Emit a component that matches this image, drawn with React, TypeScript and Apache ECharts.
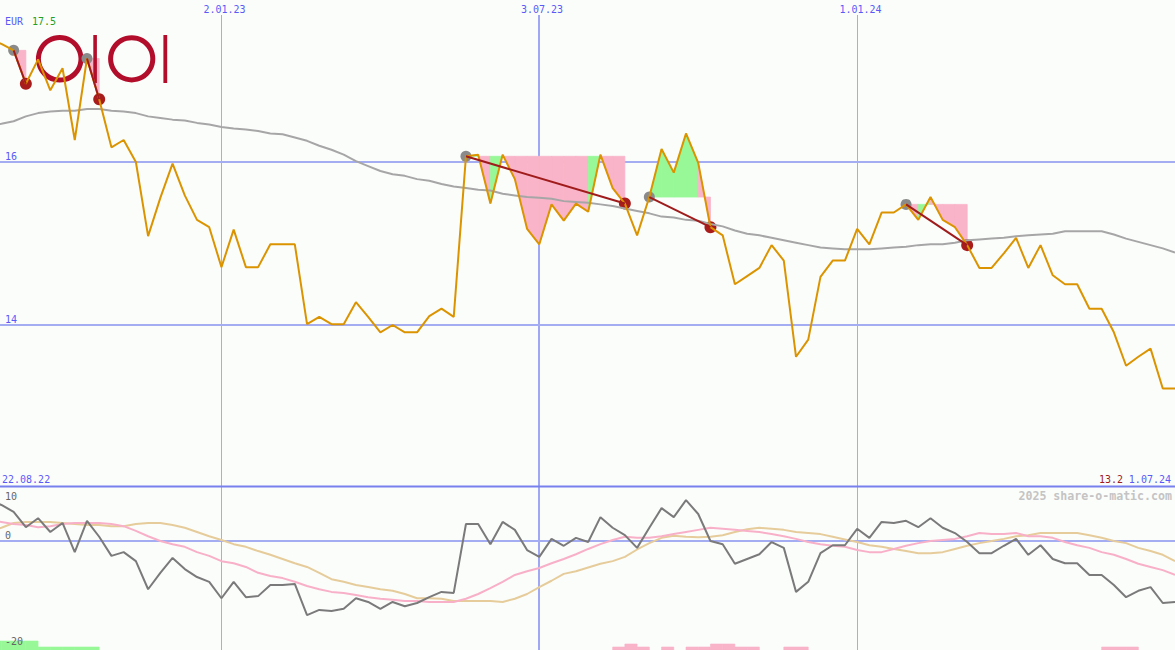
import React, { useEffect, useRef } from 'react';
import * as echarts from 'echarts';

// ---------- data ----------
const X_MIN = 0.885; // week index at left edge
const X_MAX = 97; // week index at right edge (1.07.24)

const currency = 'EUR';
const firstPriceLabel = '17.5';
const lastPriceLabel = '13.2';
const startDate = '22.08.22';
const endDate = '1.07.24';
const watermark = '2025 share-o-matic.com';

const dateTickIdx = [19, 45, 71];
const dateTickLabels = ['2.01.23', '3.07.23', '1.01.24'];
const dateTickMajor = [false, true, false];

const priceGridValues = [14, 16];
const lowerTickValues = [10, 0, -20];
const lowerGridValues = [0];

const PRICE_MIN = 12.012;
const PRICE_MAX = 17.988;
const LOWER_MIN = -20.566;
const LOWER_MAX = 10;

const price = [
  17.5, 17.45, 17.37, 16.96, 17.26, 16.88, 17.15, 16.27, 17.27, 16.77,
  16.18, 16.27, 16.0, 15.09, 15.56, 15.98, 15.59, 15.29, 15.2, 14.71,
  15.17, 14.71, 14.71, 14.99, 14.99, 14.99, 14.01, 14.1, 14.01, 14.01,
  14.28, 14.1, 13.91, 14.0, 13.91, 13.91, 14.11, 14.2, 14.1, 16.07,
  16.09, 15.49, 16.09, 15.79, 15.18, 14.99, 15.48, 15.28, 15.49, 15.39,
  16.09, 15.68, 15.49, 15.1, 15.57, 16.16, 15.87, 16.35, 15.99, 15.2,
  15.1, 14.5, 14.6, 14.7, 14.98, 14.79, 13.61, 13.82, 14.59, 14.79,
  14.79, 15.18, 14.99, 15.38, 15.38, 15.48, 15.29, 15.57, 15.29, 15.2,
  14.98, 14.7, 14.7, 14.88, 15.07, 14.7, 14.98, 14.61, 14.5, 14.5,
  14.2, 14.2, 13.91, 13.5, 13.61, 13.71, 13.22, 13.22,
];

const movingAvg = [
  16.45, 16.47, 16.5, 16.56, 16.6, 16.62, 16.63, 16.63, 16.65, 16.65,
  16.63, 16.62, 16.6, 16.56, 16.54, 16.52, 16.51, 16.48, 16.46, 16.43,
  16.41, 16.4, 16.38, 16.35, 16.34, 16.3, 16.26, 16.2, 16.15, 16.09,
  16.01, 15.95, 15.89, 15.85, 15.83, 15.79, 15.77, 15.73, 15.7, 15.68,
  15.66, 15.65, 15.61, 15.59, 15.57, 15.56, 15.55, 15.52, 15.51, 15.5,
  15.48, 15.46, 15.43, 15.4, 15.37, 15.33, 15.32, 15.29, 15.28, 15.24,
  15.21, 15.16, 15.12, 15.1, 15.07, 15.04, 15.01, 14.98, 14.95, 14.94,
  14.93, 14.93, 14.93, 14.94, 14.95, 14.96, 14.98, 14.99, 14.99, 15.01,
  15.04, 15.05, 15.06, 15.07, 15.09, 15.1, 15.11, 15.12, 15.15, 15.15,
  15.15, 15.15, 15.11, 15.06, 15.02, 14.98, 14.94, 14.89,
];

const momentum = [
  7.7, 6.8, 5.5, 2.6, 4.3, 1.7, 3.4, -2.1, 3.8, 0.8,
  -2.8, -2.1, -3.8, -9.1, -6.0, -3.2, -5.3, -6.8, -7.7, -10.8,
  -7.7, -10.6, -10.4, -8.3, -8.3, -8.1, -14.0, -13.0, -13.2, -12.8,
  -10.8, -11.5, -12.8, -11.5, -12.3, -11.7, -10.6, -9.6, -9.8, 3.2,
  3.2, -0.6, 3.6, 2.1, -1.7, -3.0, 0.4, -0.9, 0.6, -0.2,
  4.5, 2.5, 1.1, -1.3, 2.5, 6.2, 4.5, 7.7, 5.1, 0.0,
  -0.6, -4.3, -3.4, -2.5, -0.2, -1.3, -9.6, -7.7, -2.3, -0.8,
  -0.8, 2.3, 0.6, 3.6, 3.4, 3.8, 2.6, 4.3, 2.5, 1.5,
  -0.2, -2.3, -2.3, -0.9, 0.4, -2.6, -0.8, -3.4, -4.2, -4.2,
  -6.4, -6.4, -8.3, -10.6, -9.4, -8.7, -11.7, -11.5,
];

const fastAvg = [
  3.8, 3.6, 3.2, 3.0, 2.6, 2.8, 3.2, 3.4, 3.4, 3.4,
  3.2, 2.8, 1.9, 0.9, 0.0, -0.6, -1.1, -2.1, -2.8, -3.8,
  -4.2, -4.9, -6.0, -6.6, -7.0, -7.7, -8.5, -9.1, -9.6, -9.8,
  -10.2, -10.6, -10.9, -11.1, -11.3, -11.3, -11.5, -11.5, -11.5, -10.9,
  -10.0, -8.9, -7.7, -6.4, -5.7, -5.1, -4.2, -3.4, -2.5, -1.5,
  -0.6, 0.2, 0.8, 0.6, 0.6, 0.9, 1.3, 1.7, 2.1, 2.5,
  2.3, 2.1, 1.9, 1.7, 1.3, 0.9, 0.4, -0.2, -0.6, -0.9,
  -1.1, -1.7, -2.1, -2.1, -1.5, -0.9, -0.4, 0.0, 0.2, 0.4,
  0.9, 1.5, 1.3, 1.3, 1.5, 0.9, 0.9, 0.6, -0.2, -0.8,
  -1.3, -2.1, -2.6, -3.4, -4.3, -4.9, -5.5, -6.4,
];

const slowAvg = [
  1.9, 2.5, 3.4, 3.6, 3.6, 3.6, 3.4, 3.2, 3.0, 3.0,
  2.8, 2.8, 3.2, 3.4, 3.4, 3.0, 2.5, 1.7, 0.9, 0.2,
  -0.6, -1.1, -1.9, -2.6, -3.4, -4.2, -4.9, -6.0, -7.2, -7.7,
  -8.3, -8.7, -9.1, -9.4, -10.0, -10.8, -10.8, -10.9, -11.3, -11.3,
  -11.3, -11.3, -11.5, -10.9, -10.0, -8.7, -7.5, -6.2, -5.7, -5.0,
  -4.3, -3.8, -3.0, -1.6, -0.4, 0.6, 1.0, 0.8, 0.7, 0.8,
  1.1, 1.7, 2.2, 2.5, 2.3, 2.1, 1.7, 1.5, 1.3, 0.8,
  0.3, -0.2, -0.8, -1.1, -1.5, -1.9, -2.3, -2.3, -2.1, -1.5,
  -0.9, -0.4, 0.0, 0.4, 0.9, 1.1, 1.5, 1.5, 1.5, 1.5,
  1.1, 0.6, 0.0, -0.4, -1.3, -1.9, -2.6, -3.8,
];

// trades: [entry week index, exit week index]
const trades = [
  [2, 3],
  [8, 9],
  [39, 52],
  [54, 59],
  [75, 80],
];

// histogram bars at bottom of lower panel: [week index, height]
const greenBars = [
  [0, 1.7], [1, 1.7], [2, 1.7], [3, 1.7],
  [4, 0.57], [5, 0.57], [6, 0.57], [7, 0.57], [8, 0.57],
];
const pinkBars = [
  [51, 0.57], [52, 1.13], [53, 0.57], [55, 0.57],
  [57, 0.57], [58, 0.57], [59, 1.13], [60, 1.13], [61, 0.57], [62, 0.57],
  [65, 0.57], [66, 0.57], [91, 0.57], [92, 0.57], [93, 0.57],
];

// ---------- styles ----------
const BG = '#fbfdfb';
const ORANGE = '#db9400';
const MA_GRAY = '#a6a6a6';
const MOM_GRAY = '#7a7a7a';
const PINK_LINE = '#f8b0c8';
const TAN_LINE = '#e6cc9a';
const FILL_PINK = '#f9b4c9';
const FILL_GREEN = '#98f898';
const GRID_BLUE = '#a4acf2';
const SEP_BLUE = '#7880ee';
const LABEL_BLUE = '#5a5af8';
const LOWER_LABEL = '#666666';
const ENTRY_GRAY = '#8a8a8a';
const EXIT_RED = '#a81c1c';
const TRADE_LINE = '#a01c1c';
const LOGO_RED = '#b20d2a';
const FONT = '10px "DejaVu Sans Mono", monospace';

function txt(text: string, x: number, y: number, fill: string, align = 'left', font = FONT) {
  return {
    type: 'text',
    z: 20,
    silent: true,
    style: { text, x, y, fill, font, align, textAlign: align, verticalAlign: 'middle', textVerticalAlign: 'middle' },
  };
}

function buildOption() {
  const fillData: number[][] = [];
  trades.forEach(([e, x]) => {
    for (let k = e; k < x; k++) fillData.push([k, price[e], price[k], price[k + 1]]);
  });
  const barData = [
    ...greenBars.map(([i, h]) => [i, h, 1]),
    ...pinkBars.map(([i, h]) => [i, h, 0]),
  ];

  const xAxisBase = { type: 'value', min: X_MIN, max: X_MAX, show: false, splitLine: { show: false } };

  return {
    animation: false,
    backgroundColor: BG,
    grid: [
      { left: 0, right: 0, top: 0, height: 487 },
      { left: 0, right: 0, top: 488, height: 162 },
      { left: 0, right: 0, top: 15, height: 635 },
    ],
    xAxis: [
      { ...xAxisBase, gridIndex: 0 },
      { ...xAxisBase, gridIndex: 1 },
      { ...xAxisBase, gridIndex: 2 },
    ],
    yAxis: [
      { type: 'value', gridIndex: 0, min: PRICE_MIN, max: PRICE_MAX, show: false, splitLine: { show: false } },
      { type: 'value', gridIndex: 1, min: LOWER_MIN, max: LOWER_MAX, show: false, splitLine: { show: false } },
      { type: 'value', gridIndex: 2, min: 0, max: 1, show: false, splitLine: { show: false } },
    ],
    series: [
      // vertical date lines + labels
      {
        type: 'custom',
        xAxisIndex: 2,
        yAxisIndex: 2,
        z: 1,
        silent: true,
        data: dateTickIdx.map((v, k) => [v, k]),
        renderItem: (params: any, api: any) => {
          const k = api.value(1);
          const top = api.coord([api.value(0), 1]);
          const bot = api.coord([api.value(0), 0]);
          const major = dateTickMajor[k];
          const x = major ? Math.round(top[0]) : Math.round(top[0]) + 0.5;
          return {
            type: 'group',
            children: [
              {
                type: 'line',
                shape: { x1: x, y1: top[1], x2: x, y2: bot[1] },
                style: { stroke: major ? '#a0a8f6' : '#a4acea', lineWidth: major ? 2 : 1 },
              },
              {
                type: 'text',
                style: {
                  text: dateTickLabels[k], x: x + 3, y: top[1] - 6, fill: LABEL_BLUE, font: FONT,
                  align: 'center', textAlign: 'center', verticalAlign: 'middle', textVerticalAlign: 'middle',
                },
              },
            ],
          };
        },
      },
      // main horizontal grid lines + labels
      {
        type: 'custom',
        xAxisIndex: 0,
        yAxisIndex: 0,
        z: 1,
        silent: true,
        data: priceGridValues.map((v) => [X_MIN, v]),
        renderItem: (params: any, api: any) => {
          const v = api.value(1);
          const a = api.coord([X_MIN, v]);
          const b = api.coord([X_MAX, v]);
          const y = Math.round(a[1]);
          return {
            type: 'group',
            children: [
              { type: 'line', shape: { x1: 0, y1: y, x2: b[0], y2: y }, style: { stroke: GRID_BLUE, lineWidth: 2 } },
              {
                type: 'text',
                style: {
                  text: String(v), x: 5, y: y - 6, fill: LABEL_BLUE, font: FONT,
                  align: 'left', textAlign: 'left', verticalAlign: 'middle', textVerticalAlign: 'middle',
                },
              },
            ],
          };
        },
      },
      // lower panel grid line + labels
      {
        type: 'custom',
        xAxisIndex: 1,
        yAxisIndex: 1,
        z: 3,
        silent: true,
        data: lowerTickValues.map((v) => [X_MIN, v]),
        renderItem: (params: any, api: any) => {
          const v = api.value(1);
          const a = api.coord([X_MIN, v]);
          const b = api.coord([X_MAX, v]);
          const y = Math.round(a[1]);
          const children: any[] = [];
          if (lowerGridValues.includes(v)) {
            children.push({ type: 'line', shape: { x1: 0, y1: y, x2: b[0], y2: y }, style: { stroke: GRID_BLUE, lineWidth: 2 } });
          }
          children.push({
            type: 'text',
            style: {
              text: String(v), x: 5, y: Math.max(y - 6, 496), fill: LOWER_LABEL, font: FONT,
              align: 'left', textAlign: 'left', verticalAlign: 'middle', textVerticalAlign: 'middle',
            },
          });
          return { type: 'group', children };
        },
      },
      // trade fills
      {
        type: 'custom',
        xAxisIndex: 0,
        yAxisIndex: 0,
        z: 2,
        silent: true,
        clip: true,
        data: fillData,
        renderItem: (params: any, api: any) => {
          const k = api.value(0);
          const lvl = api.value(1);
          const p0 = api.value(2);
          const p1 = api.value(3);
          const pts = [api.coord([k, lvl]), api.coord([k, p0]), api.coord([k + 1, p1]), api.coord([k + 1, lvl])];
          const c = p1 >= lvl ? FILL_GREEN : FILL_PINK;
          return { type: 'polygon', shape: { points: pts }, style: { fill: c, stroke: c, lineWidth: 0.8 } };
        },
      },
      // bottom bars
      {
        type: 'custom',
        xAxisIndex: 1,
        yAxisIndex: 1,
        z: 2,
        silent: true,
        clip: true,
        data: barData,
        renderItem: (params: any, api: any) => {
          const i = api.value(0);
          const h = api.value(1);
          const p0 = api.coord([i, LOWER_MIN]);
          const p1 = api.coord([i + 1, LOWER_MIN + h]);
          const c = api.value(2) ? FILL_GREEN : FILL_PINK;
          return {
            type: 'rect',
            shape: { x: p0[0], y: Math.round(p1[1]), width: p1[0] - p0[0], height: p0[1] - Math.round(p1[1]) },
            style: { fill: c, stroke: c, lineWidth: 0.6 },
          };
        },
      },
      // moving average
      {
        type: 'line',
        xAxisIndex: 0,
        yAxisIndex: 0,
        z: 4,
        silent: true,
        showSymbol: false,
        data: movingAvg.map((v, i) => [i, v]),
        lineStyle: { color: MA_GRAY, width: 2 },
      },
      // price
      {
        type: 'line',
        xAxisIndex: 0,
        yAxisIndex: 0,
        z: 4,
        silent: true,
        showSymbol: false,
        data: price.map((v, i) => [i, v]),
        lineStyle: { color: ORANGE, width: 2 },
      },
      // lower panel lines
      {
        type: 'line',
        xAxisIndex: 1,
        yAxisIndex: 1,
        z: 4,
        silent: true,
        showSymbol: false,
        data: slowAvg.map((v, i) => [i, v]),
        lineStyle: { color: TAN_LINE, width: 2 },
      },
      {
        type: 'line',
        xAxisIndex: 1,
        yAxisIndex: 1,
        z: 4,
        silent: true,
        showSymbol: false,
        data: fastAvg.map((v, i) => [i, v]),
        lineStyle: { color: PINK_LINE, width: 2 },
      },
      {
        type: 'line',
        xAxisIndex: 1,
        yAxisIndex: 1,
        z: 4,
        silent: true,
        showSymbol: false,
        data: momentum.map((v, i) => [i, v]),
        lineStyle: { color: MOM_GRAY, width: 2 },
      },
      // trade connectors
      {
        type: 'lines',
        coordinateSystem: 'cartesian2d',
        xAxisIndex: 0,
        yAxisIndex: 0,
        z: 5,
        silent: true,
        data: trades.map(([e, x]) => ({ coords: [[e, price[e]], [x, price[x]]] })),
        lineStyle: { color: TRADE_LINE, width: 2, opacity: 1, curveness: 0 },
      },
      // entries
      {
        type: 'scatter',
        xAxisIndex: 0,
        yAxisIndex: 0,
        z: 3,
        silent: true,
        symbolSize: 11,
        data: trades.map(([e]) => [e, price[e]]),
        itemStyle: { color: ENTRY_GRAY, opacity: 1 },
      },
      // exits
      {
        type: 'scatter',
        xAxisIndex: 0,
        yAxisIndex: 0,
        z: 3,
        silent: true,
        symbolSize: 12,
        data: trades.map(([, x]) => [x, price[x]]),
        itemStyle: { color: EXIT_RED, opacity: 1 },
      },
    ],
    graphic: [
      // separator between panels
      { type: 'line', z: 15, silent: true, shape: { x1: 0, y1: 486.5, x2: 1175, y2: 486.5 }, style: { stroke: SEP_BLUE, lineWidth: 2 } },
      // logo
      { type: 'ring', z: 3, silent: true, shape: { cx: 59.7, cy: 58.8, r: 23.8, r0: 18.8 }, style: { fill: LOGO_RED } },
      { type: 'rect', z: 3, silent: true, shape: { x: 93.3, y: 35, width: 3.6, height: 48 }, style: { fill: LOGO_RED } },
      { type: 'ring', z: 3, silent: true, shape: { cx: 131.7, cy: 58.8, r: 23.6, r0: 18.6 }, style: { fill: LOGO_RED } },
      { type: 'rect', z: 3, silent: true, shape: { x: 163.4, y: 35, width: 3.8, height: 48 }, style: { fill: LOGO_RED } },
      // labels
      txt(currency, 5, 21, LABEL_BLUE),
      txt(firstPriceLabel, 32, 21, '#22a022'),
      txt(startDate, 2, 479, LABEL_BLUE),
      txt(endDate, 1171, 479, LABEL_BLUE, 'right'),
      txt(lastPriceLabel, 1123, 479, '#a01c1c', 'right'),
      txt(watermark, 1172, 496, '#c4c4c4', 'right', 'bold 11.6px "DejaVu Sans Mono", monospace'),
    ],
  };
}

export default function App() {
  const ref = useRef<HTMLDivElement>(null);
  useEffect(() => {
    if (!ref.current) return;
    const chart = echarts.init(ref.current, undefined, { renderer: 'svg' });
    chart.setOption(buildOption() as any);
    return () => {
      chart.dispose();
    };
  }, []);
  return (
    <div
      ref={ref}
      style={{ position: 'fixed', left: 0, top: 0, width: 1175, height: 650, margin: 0, padding: 0 }}
    />
  );
}
